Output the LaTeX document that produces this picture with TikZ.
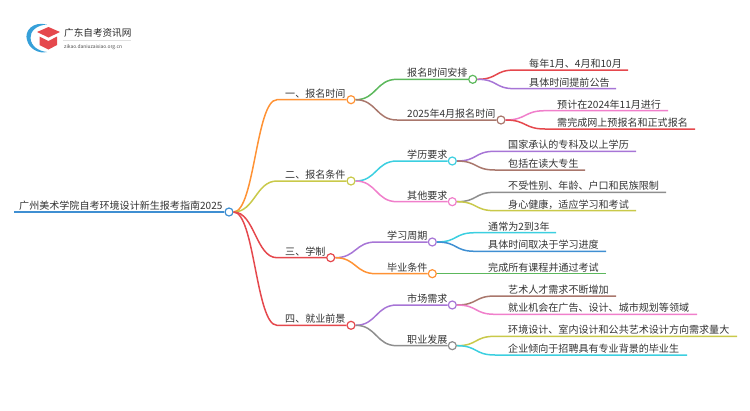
\documentclass[tikz,border=0pt]{standalone}
\usepackage{fontspec}
\setmainfont{Noto Sans CJK SC}
\definecolor{cblue}{HTML}{3F8FD2}
\definecolor{corange}{HTML}{FF9234}
\definecolor{colive}{HTML}{C9C94A}
\definecolor{cred}{HTML}{E5484D}
\definecolor{cgreen}{HTML}{5CB85C}
\definecolor{cbrown}{HTML}{A9776C}
\definecolor{ccyan}{HTML}{3CCFE0}
\definecolor{cpink}{HTML}{F07FCB}
\definecolor{cpurple}{HTML}{A775D6}
\definecolor{cgray}{HTML}{8E8E8E}
\tikzset{
  dot/.style={shape=circle, draw=#1, fill=white, line width=1.2pt, minimum size=8pt, inner sep=0pt},
  txt/.style={anchor=base west, inner sep=0pt, text=black!80, font=\fontsize{10.05}{12}\selectfont},
  link/.style={draw=#1, line width=1.5pt},
  fan/.style={to path={.. controls +(21,0) and +(-21,0) .. (\tikztotarget)}}
}
\begin{document}
\begin{tikzpicture}[x=1pt, y=-1pt]
\useasboundingbox (0,0) rectangle (750,410);
% logo
\fill [cblue!85!cyan] (47,24.5) .. controls (33,21) and (24,31) .. (27,40) .. controls (29,49) and (39,54) .. (47,52) .. controls (38,51) and (31,46) .. (30.5,38) .. controls (30,31) and (37,25) .. (47,24.5);
\fill [cred] (37,32) -- (48.5,27) -- (60,32) -- (48.5,37.5) -- cycle;
\fill [cred] (39.5,36.5) -- (48.5,41) -- (57,36.5) -- (57,45) -- (48.5,49.5) -- (39.5,45) -- cycle;
\node at (64,36) [anchor=base west, inner sep=0pt, text=black!85, font=\fontsize{9.6}{11}\selectfont] (logotext) {广东自考资讯网};
\draw [black!12, line width=0.5pt] (63,40.5) -- (131,40.5);
\node at (64,48) [anchor=base west, inner sep=0pt, text=black!70, font=\fontsize{4.9}{6}\selectfont] (logourl) {zikao.daniuzaixiao.org.cn};

% root
\node at (229,212) [dot=cblue] (root) {};
\coordinate (root0) at (14,212);
\node at (19,209.5) [txt] (rootlabel) {广州美术学院自考环境设计新生报考指南2025};
\draw [link=cblue, line width=2pt] (root0) -- (root);

% first level
\node at (351,99.7) [dot=corange] (a) {};
\node at (351,181) [dot=colive] (b) {};
\node at (330.7,257.7) [dot=cred] (c) {};
\node at (351,325.3) [dot=cred] (d) {};
\coordinate (a0) at (277,99.7);
\coordinate (b0) at (277,181);
\coordinate (c0) at (277,257.7);
\coordinate (d0) at (277,325.3);
\node at (285,97.2) [txt] (alabel) {一、报名时间};
\node at (285,178.5) [txt] (blabel) {二、报名条件};
\node at (285,255.2) [txt] (clabel) {三、学制};
\node at (285,322.8) [txt] (dlabel) {四、就业前景};
\draw [link=corange] (root.east) to [fan] (a0) -- (a);
\draw [link=colive] (root.east) to [fan] (b0) -- (b);
\draw [link=cred] (root.east) to [fan] (c0) -- (c);
\draw [link=cred] (root.east) to [fan] (d0) -- (d);

% second level
\node at (472.7,79.3) [dot=cgreen] (a1) {};
\node at (501,120) [dot=cbrown] (a2) {};
\node at (452.3,161) [dot=ccyan] (b1) {};
\node at (452.3,201.7) [dot=cpink] (b2) {};
\node at (432.3,242) [dot=cpurple] (c1) {};
\node at (432.3,273.7) [dot=corange] (c2) {};
\node at (452.3,305) [dot=cpurple] (d1) {};
\node at (452.3,345.7) [dot=cgray] (d2) {};
\coordinate (a10) at (397,79.3);
\coordinate (a20) at (397,120);
\coordinate (b10) at (397,161);
\coordinate (b20) at (397,201.7);
\coordinate (c10) at (376,242);
\coordinate (c20) at (376,273.7);
\coordinate (d10) at (397,305);
\coordinate (d20) at (397,345.7);
\node at (407,76.8) [txt] (a1label) {报名时间安排};
\node at (407,117.5) [txt] (a2label) {2025年4月报名时间};
\node at (407,158.5) [txt] (b1label) {学历要求};
\node at (407,199.2) [txt] (b2label) {其他要求};
\node at (387,239.5) [txt] (c1label) {学习周期};
\node at (387,271.2) [txt] (c2label) {毕业条件};
\node at (407,302.5) [txt] (d1label) {市场需求};
\node at (407,343.2) [txt] (d2label) {职业发展};
\draw [link=cgreen] (a.east) to [fan] (a10) -- (a1);
\draw [link=cbrown] (a.east) to [fan] (a20) -- (a2);
\draw [link=ccyan] (b.east) to [fan] (b10) -- (b1);
\draw [link=cpink] (b.east) to [fan] (b20) -- (b2);
\draw [link=cpurple] (c.east) to [fan] (c10) -- (c1);
\draw [link=corange] (c.east) to [fan] (c20) -- (c2);
\draw [link=cpurple] (d.east) to [fan] (d10) -- (d1);
\draw [link=cgray] (d.east) to [fan] (d20) -- (d2);

% leaves
\foreach \nm/\from/\xa/\xb/\yy/\col/\txtx/\str in {
  l1/a1/515/628/70/cred/529/每年1月、4月和10月,
  l2/a1/515/616/88.7/cpurple/529/具体时间提前公告,
  l3/a2/545/668/110.7/cpink/557/预计在2024年11月进行,
  l4/a2/545/695/129/cred/557/需完成网上预报名和正式报名,
  l5/b1/495/636/151.3/cpurple/508/国家承认的专科及以上学历,
  l6/b1/495/585/170/cbrown/508/包括在读大专生,
  l7/b2/495/666/192.3/cgray/508/不受性别、年龄、户口和民族限制,
  l8/b2/495/636/210.7/colive/508/身心健康，适应学习和考试,
  l9/c1/475/556/232.7/ccyan/488/通常为2到3年,
  l10/c1/475/606/251.3/cblue/488/具体时间取决于学习进度,
  l11/c2/475/606/273.7/cgreen/488/完成所有课程并通过考试,
  l12/d1/495/616/296/cbrown/508/艺术人才需求不断增加,
  l13/d1/495/697/314.3/cpink/508/就业机会在广告、设计、城市规划等领域,
  l14/d2/495/737/336.3/colive/508/环境设计、室内设计和公共艺术设计方向需求量大,
  l15/d2/495/687/355/ccyan/508/企业倾向于招聘具有专业背景的毕业生}
{
  \coordinate (\nm0) at (\xa,\yy);
  \coordinate (\nm1) at (\xb,\yy);
  \node at (\txtx,\yy-2.5) [txt] (\nm) {\str};
  \draw [link=\col] (\from.east) to [fan] (\nm0) -- (\nm1);
}
\end{tikzpicture}
\end{document}
